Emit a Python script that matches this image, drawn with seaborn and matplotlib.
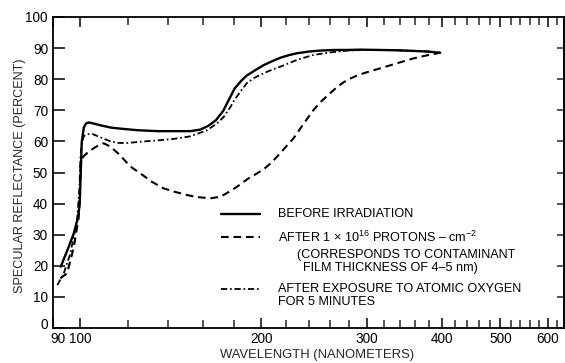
import numpy as np
import pandas as pd
import matplotlib
matplotlib.use("Agg")
import matplotlib.pyplot as plt
from matplotlib.lines import Line2D
from matplotlib.ticker import FixedLocator, NullFormatter
from matplotlib.transforms import ScaledTranslation
import seaborn as sns

# ---------------- data ----------------
before_wl = [92.7, 95.1, 97.5, 99.1, 99.7, 100.1, 100.5, 101.3, 102.2, 103.2, 104.9,
             107.8, 112.7, 118.1, 124.4, 134.1, 143.8, 152.5, 158.3, 163.2, 168.0,
             172.8, 176.7, 180.5, 185.4, 189.2, 195.0, 201.7, 208.5, 215.2, 221.9,
             228.6, 240.1, 250.7, 264.1, 278.4, 292.7, 314.6, 335.6, 358.4, 378.3, 397.0]
before_refl = [19.7, 25.0, 30.5, 35.8, 40.0, 50.0, 60.0, 64.5, 65.8, 66.1, 65.8,
               65.2, 64.4, 64.0, 63.6, 63.3, 63.3, 63.3, 63.8, 65.0, 66.8,
               69.8, 73.5, 77.0, 79.6, 81.2, 82.8, 84.5, 85.8, 86.9, 87.7,
               88.3, 88.9, 89.2, 89.4, 89.4, 89.5, 89.4, 89.3, 89.1, 88.9, 88.5]

proton_wl = [92.6, 95.0, 97.5, 99.35, 99.8, 100.0, 100.5, 101.3, 103.0, 105.2, 107.3,
             109.3, 112.2, 116.0, 121.1, 125.8, 131.5, 137.5, 142.9, 150.0, 156.3,
             164.5, 170.9, 177.6, 184.0, 190.0, 195.5, 201.7, 208.0, 215.0, 220.5,
             226.3, 235.0, 244.3, 252.0, 260.4, 268.5, 277.6, 286.5, 295.8, 315.4,
             336.2, 358.3, 378.0, 396.8]
proton_refl = [16.0, 17.6, 26.1, 35.8, 45.0, 52.0, 54.3, 55.3, 56.6, 57.8, 58.8,
               59.4, 58.3, 55.8, 51.9, 49.7, 47.0, 44.9, 43.9, 42.8, 42.1,
               41.7, 42.2, 44.0, 46.0, 48.0, 49.4, 51.0, 53.2, 56.2, 58.6,
               61.0, 65.6, 70.1, 73.0, 75.5, 77.8, 79.7, 80.9, 81.9, 83.5,
               85.1, 86.7, 87.7, 88.5]

oxygen_wl = [91.5, 93.8, 96.2, 98.7, 99.6, 100.0, 100.5, 101.3, 102.5, 104.6, 108.0,
             111.5, 115.1, 120.0, 125.8, 134.0, 142.9, 152.0, 156.3, 162.4, 168.8,
             173.0, 177.6, 180.0, 184.5, 189.3, 195.0, 201.7, 208.0, 215.0, 222.0,
             229.3, 236.5, 244.3, 252.0, 260.4, 277.6, 295.8, 315.4, 336.2, 358.3,
             378.0, 396.8]
oxygen_refl = [13.8, 17.6, 24.0, 34.7, 45.0, 55.0, 59.5, 61.7, 62.3, 62.4, 61.3,
               60.2, 59.5, 59.5, 59.9, 60.3, 60.8, 61.6, 62.4, 63.6, 65.8,
               67.8, 71.0, 73.0, 76.0, 78.8, 80.5, 81.9, 83.0, 84.0, 85.1,
               86.2, 87.0, 87.8, 88.2, 88.6, 89.2, 89.4, 89.4, 89.3, 89.1,
               88.9, 88.5]

x_major = [90, 100, 200, 300, 400, 500, 600]
x_major_labels = ["90", "100", "200", "300", "400", "500", "600"]
x_minor = [120, 140, 160, 180, 220, 240, 260, 280, 320, 340, 360, 380,
           420, 440, 460, 480, 520, 540, 560, 580, 620]
y_ticks = [0, 10, 20, 30, 40, 50, 60, 70, 80, 90, 100]

legend_labels = ["BEFORE IRRADIATION",
                 "AFTER 1 \u00d7 10$^{16}$ PROTONS \u2013 cm$^{-2}$",
                 "(CORRESPONDS TO CONTAMINANT",
                 "FILM THICKNESS OF 4\u20135 nm)",
                 "AFTER EXPOSURE TO ATOMIC OXYGEN",
                 "FOR 5 MINUTES"]

# ---------------- style ----------------
sns.set_style("ticks")
plt.rcParams["font.family"] = ["Liberation Sans", "DejaVu Sans"]
plt.rcParams["mathtext.fontset"] = "custom"
plt.rcParams["mathtext.rm"] = "Liberation Sans"
plt.rcParams["mathtext.it"] = "Liberation Sans"
plt.rcParams["mathtext.default"] = "regular"
plt.rcParams["lines.scale_dashes"] = False

FS_TICK = 9.8
FS_XLAB = 9.4
FS_YLAB = 9.1
FS_LEG = 9.1
fig = plt.figure(figsize=(5.65, 3.63), dpi=100)
ax = fig.add_axes([53 / 565, 35 / 363, 511 / 565, 311 / 363])

df_b = pd.DataFrame({"wl": before_wl, "r": before_refl})
df_p = pd.DataFrame({"wl": proton_wl, "r": proton_refl})
df_o = pd.DataFrame({"wl": oxygen_wl, "r": oxygen_refl})

solid_ls = "-"
dash_ls = (0, (5.5, 3.5))
dashdot_ls = (0, (4.5, 2.0, 1.2, 2.0))

sns.lineplot(data=df_b, x="wl", y="r", ax=ax, sort=False, estimator=None,
             color="black", lw=1.7, linestyle=solid_ls)
sns.lineplot(data=df_p, x="wl", y="r", ax=ax, sort=False, estimator=None,
             color="black", lw=1.5, linestyle=dash_ls)
sns.lineplot(data=df_o, x="wl", y="r", ax=ax, sort=False, estimator=None,
             color="black", lw=1.3, linestyle=dashdot_ls)

ax.set_xscale("log")
ax.set_xlim(90, 638)
ax.set_ylim(0, 100)

ax.xaxis.set_major_locator(FixedLocator(x_major))
ax.set_xticks(x_major, x_major_labels)
ax.xaxis.set_minor_locator(FixedLocator(x_minor))
ax.xaxis.set_minor_formatter(NullFormatter())
ax.set_yticks(y_ticks, [str(v) for v in y_ticks])

ax.tick_params(axis="x", which="major", direction="in", length=7.5, width=1.1,
               top=True, bottom=True, labelsize=FS_TICK, pad=3.0, colors="black")
ax.tick_params(axis="x", which="minor", direction="in", length=5.5, width=1.1,
               top=True, bottom=True)
ax.tick_params(axis="y", which="major", direction="in", length=8.5, width=1.1,
               left=True, right=False, labelsize=FS_TICK, pad=3.6, colors="black")

# the "90" label sits a little right of the corner, the "0" label a little above it
lab90 = ax.get_xticklabels()[0]
lab90.set_transform(lab90.get_transform() + ScaledTranslation(4.5 / 100, 0, fig.dpi_scale_trans))
lab0 = ax.get_yticklabels()[0]
lab0.set_transform(lab0.get_transform() + ScaledTranslation(0, 4.5 / 100, fig.dpi_scale_trans))

sec = ax.secondary_yaxis("right")
sec.set_yticks(y_ticks[1:-1])
sec.tick_params(axis="y", direction="in", length=5, width=1.1, labelright=False)
sec.spines["right"].set_linewidth(1.3)

for s in ax.spines.values():
    s.set_linewidth(1.3)
    s.set_color("black")

ax.set_xlabel("WAVELENGTH (NANOMETERS)", fontsize=FS_XLAB)
ax.set_ylabel("SPECULAR REFLECTANCE (PERCENT)", fontsize=FS_YLAB)
ax.xaxis.set_label_coords(0.517, -0.066)
ax.yaxis.set_label_coords(-0.053, 0.49)

# ---------------- hand-drawn legend (axes fraction) ----------------
def frac_x(px):
    return (px - 53) / 511.0

def frac_y(py):
    return (328 - py) / 311.0

lx0, lx1 = frac_x(221), frac_x(260)
key_rows = [(214, solid_ls, 1.7), (237, dash_ls, 1.5), (289, dashdot_ls, 1.3)]
for py, ls, lw in key_rows:
    ax.add_line(Line2D([lx0, lx1], [frac_y(py), frac_y(py)], transform=ax.transAxes,
                       color="black", lw=lw, linestyle=ls))

text_rows = [(278, 214), (278, 237), (297, 255), (303, 268), (278, 289), (278, 302)]
for (px, py), lab in zip(text_rows, legend_labels):
    ax.text(frac_x(px), frac_y(py), lab, transform=ax.transAxes, fontsize=FS_LEG,
            ha="left", va="center", color="black")

fig.savefig("out.png", dpi=100)
